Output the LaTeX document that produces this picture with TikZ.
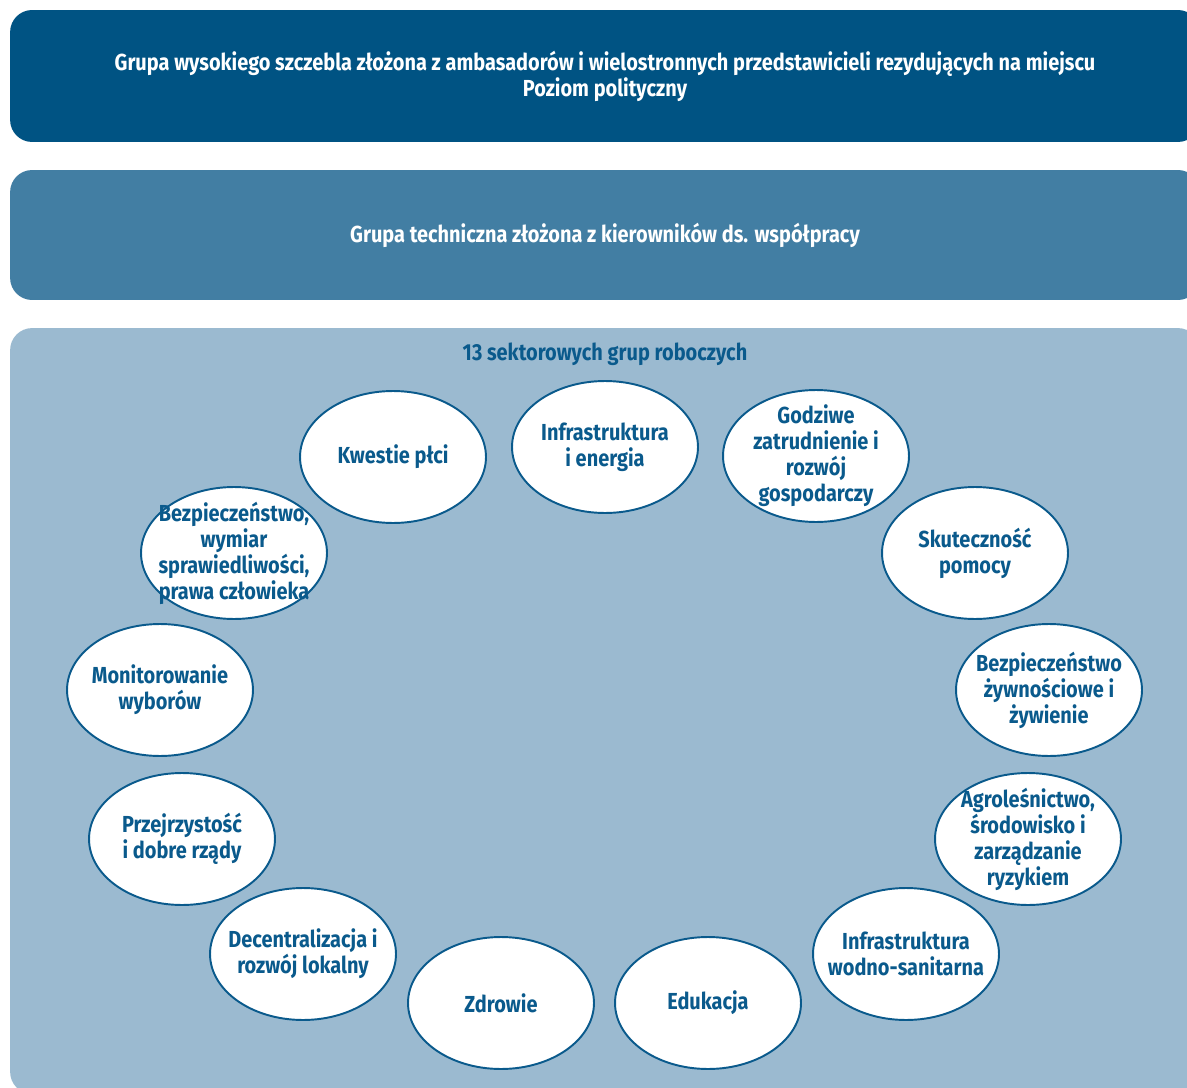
\documentclass[tikz,border=0pt]{standalone}
\usepackage{fontspec}
\setmainfont{Fira Sans}[FakeStretch=0.86]
\usetikzlibrary{shapes.geometric}
\definecolor{navyblue}{HTML}{005383}
\definecolor{midblue}{HTML}{427EA3}
\definecolor{paleblue}{HTML}{9BBAD0}
\definecolor{inkblue}{HTML}{0A5A8C}
\tikzset{
  tier/.style={rectangle, rounded corners=0.44cm, minimum width=23.8cm, inner sep=0pt},
  wgroup/.style={ellipse, draw=inkblue, line width=1.1pt, fill=white, text=inkblue,
    minimum width=3.72cm, minimum height=2.64cm, inner sep=-1cm}
}

\begin{document}
\begin{tikzpicture}[x=0.02cm, y=-0.02cm, every node/.style={font=\fontsize{13.2}{14.8}\selectfont\bfseries, align=center}]
  \useasboundingbox (0,0) rectangle (1187,1088);
  \clip (0,0) rectangle (1187,1088);
  % three levels of coordination
  \node[tier, fill=navyblue, text=white, minimum height=2.64cm] (policy) at (605,76) {Grupa wysokiego szczebla złożona z ambasadorów i wielostronnych przedstawicieli rezydujących na miejscu\\Poziom polityczny};
  \node[tier, fill=midblue, text=white, minimum height=2.6cm] (tech) at (605,235) {Grupa techniczna złożona z kierowników ds. współpracy};
  \node[tier, fill=paleblue, minimum height=15.32cm] (sectors) at (605,711) {};
  \node[text=inkblue] (title) at (605,354) {13 sektorowych grup roboczych};
  % the thirteen working groups
  \node[wgroup] (gender) at (393,457) {Kwestie płci};
  \node[wgroup] (energy) at (605,447) {Infrastruktura\\i energia};
  \node[wgroup] (jobs) at (816,456) {Godziwe\\zatrudnienie i\\rozwój\\gospodarczy};
  \node[wgroup] (aid) at (975,553) {Skuteczność\\pomocy};
  \node[wgroup] (food) at (1049,690) {Bezpieczeństwo\\żywnościowe i\\żywienie};
  \node[wgroup] (agro) at (1028,839) {Agroleśnictwo,\\środowisko i\\zarządzanie\\ryzykiem};
  \node[wgroup] (water) at (906,954) {Infrastruktura\\wodno-sanitarna};
  \node[wgroup] (edu) at (708,1003) {Edukacja};
  \node[wgroup] (health) at (501,1003) {Zdrowie};
  \node[wgroup] (local) at (303,954) {Decentralizacja i\\rozwój lokalny};
  \node[wgroup] (govern) at (182,839) {Przejrzystość\\i dobre rządy};
  \node[wgroup] (vote) at (160,690) {Monitorowanie\\wyborów};
  \node[wgroup] (rights) at (234,553) {Bezpieczeństwo,\\wymiar\\sprawiedliwości,\\prawa człowieka};
\end{tikzpicture}
\end{document}
